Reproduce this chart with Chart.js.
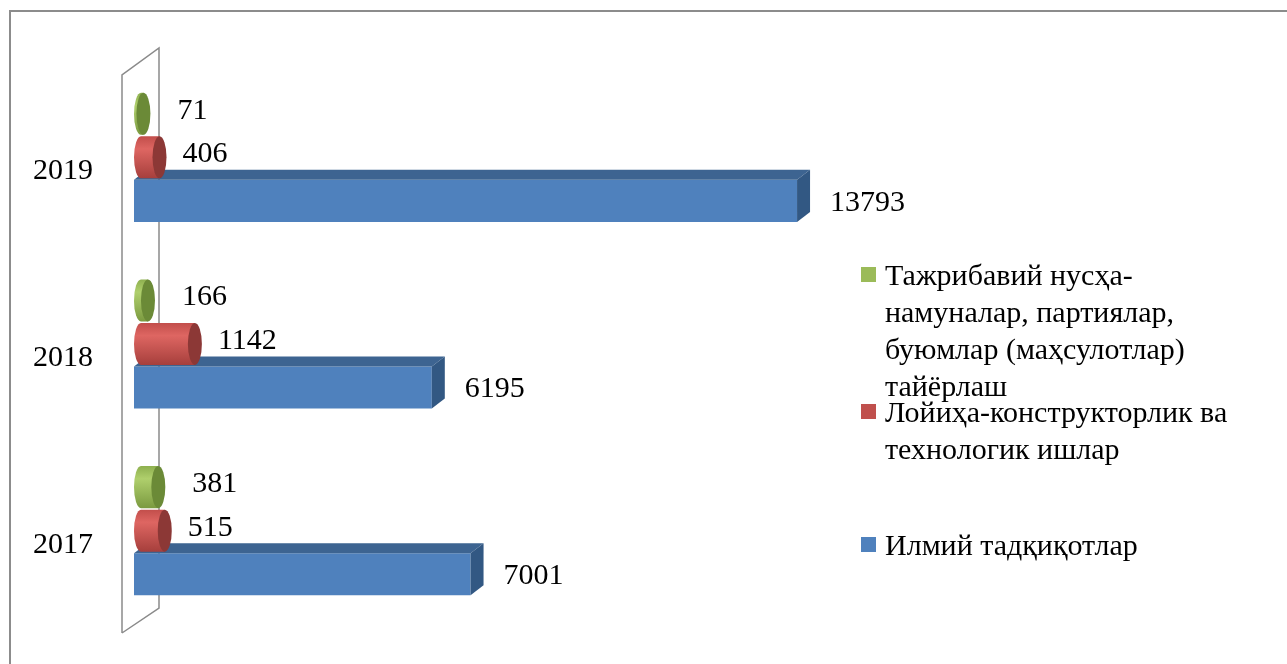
<!DOCTYPE html>
<html lang="uz">
<head>
  <meta charset="UTF-8">
  <title>Илмий тадқиқотлар 2017-2019</title>
  <script src="https://cdn.jsdelivr.net/npm/chart.js"></script>
  <style>
    html, body {
      margin: 0;
      padding: 0;
      background: #fff;
      overflow: hidden;
    }
    #wrap {
      position: relative;
      width: 1287px;
      height: 664px;
    }
    #frame {
      position: absolute;
      left: 9px;
      top: 10px;
      width: 1300px;
      height: 700px;
      border: 2px solid #8c8c8c;
      pointer-events: none;
    }
    #legend {
      position: absolute;
      left: 0;
      top: 0;
      font-family: "Liberation Serif", "Times New Roman", serif;
      font-size: 30px;
      line-height: 37px;
      color: #000;
    }
    .item {
      position: absolute;
      left: 861px;
      width: 400px;
    }
    .item .box {
      position: absolute;
      left: 0;
      top: 11px;
      width: 15px;
      height: 15px;
    }
    .item .txt {
      margin-left: 24px;
      width: 370px;
    }
  </style>
</head>
<body>
  <div id="wrap">
    <canvas id="chart"></canvas>
    <div id="frame"></div>
    <div id="legend"></div>
  </div>

  <script>
    const years = ['2017', '2018', '2019'];
    const seriesNames = [
      'Тажрибавий нусҳа-намуналар, партиялар, буюмлар (маҳсулотлар) тайёрлаш',
      'Лойиҳа-конструкторлик ва технологик ишлар',
      'Илмий тадқиқотлар'
    ];
    const prototypes = [381, 166, 71];
    const design = [515, 1142, 406];
    const research = [7001, 6195, 13793];

    const colors = ['#9bbb59', '#c0504d', '#4f81bd'];
    const legendTops = [256, 393, 526];

    const SERIF = '"Liberation Serif", "Times New Roman", serif';

    // 3D look: box faces for the blue bars, cylinders for the other two
    const threeD = {
      id: 'threeD',
      beforeDatasetsDraw(chart) {
        const { ctx, chartArea: a } = chart;
        ctx.save();
        ctx.strokeStyle = '#8a8a8a';
        ctx.lineWidth = 1.5;
        ctx.beginPath();
        ctx.moveTo(a.left - 12, a.bottom + 9);
        ctx.lineTo(a.left - 12, a.top + 11);
        ctx.lineTo(a.left + 25, a.top - 16);
        ctx.lineTo(a.left + 25, a.bottom - 16);
        ctx.lineTo(a.left - 12, a.bottom + 9);
        ctx.stroke();
        ctx.restore();
      },
      afterDatasetDraw(chart, args) {
        const ctx = chart.ctx;
        const i = args.index;
        const meta = args.meta;
        ctx.save();
        meta.data.forEach(bar => {
          const p = bar.getProps(['x', 'y', 'base', 'height'], true);
          const top = p.y - p.height / 2;
          const bottom = p.y + p.height / 2;
          if (i === 2) {
            const dx = 13, dy = -10;
            ctx.fillStyle = '#3d6491';
            ctx.beginPath();
            ctx.moveTo(p.base, top);
            ctx.lineTo(p.x, top);
            ctx.lineTo(p.x + dx, top + dy);
            ctx.lineTo(p.base + dx, top + dy);
            ctx.closePath();
            ctx.fill();
            ctx.fillStyle = '#325883';
            ctx.beginPath();
            ctx.moveTo(p.x, top);
            ctx.lineTo(p.x + dx, top + dy);
            ctx.lineTo(p.x + dx, bottom + dy);
            ctx.lineTo(p.x, bottom);
            ctx.closePath();
            ctx.fill();
          } else {
            const rx = 7, ry = p.height / 2;
            const L = p.base + rx;
            const C = Math.max(p.x + 6, L + 2);
            const g = ctx.createLinearGradient(0, top, 0, bottom);
            if (i === 1) {
              g.addColorStop(0, '#c24e4b');
              g.addColorStop(0.3, '#de6662');
              g.addColorStop(1, '#a63f3c');
            } else {
              g.addColorStop(0, '#8eb04f');
              g.addColorStop(0.3, '#afcf6c');
              g.addColorStop(1, '#7b9a40');
            }
            ctx.fillStyle = g;
            ctx.beginPath();
            ctx.ellipse(L, p.y, rx, ry, 0, Math.PI / 2, Math.PI * 1.5);
            ctx.lineTo(C, top);
            ctx.lineTo(C, bottom);
            ctx.closePath();
            ctx.fill();
            ctx.fillStyle = i === 1 ? '#8c3836' : '#6b8a37';
            ctx.beginPath();
            ctx.ellipse(C, p.y, rx, ry, 0, 0, Math.PI * 2);
            ctx.fill();
          }
        });
        ctx.restore();
      },
      afterDatasetsDraw(chart) {
        const ctx = chart.ctx;
        const dxs = [40, 29, 33];
        const dys = [-3, -3, 2];
        ctx.save();
        ctx.font = '30px ' + SERIF;
        ctx.fillStyle = '#000';
        ctx.textAlign = 'left';
        ctx.textBaseline = 'middle';
        chart.data.datasets.forEach((ds, i) => {
          chart.getDatasetMeta(i).data.forEach((bar, j) => {
            ctx.fillText(String(ds.data[j]), bar.x + dxs[i], bar.y + dys[i]);
          });
        });
        ctx.restore();
      }
    };

    const ctx = document.getElementById('chart').getContext('2d');
    const chart = new Chart(ctx, {
      type: 'bar',
      data: {
        labels: years,
        datasets: [
          { label: seriesNames[0], data: prototypes, backgroundColor: 'rgba(0,0,0,0)' },
          { label: seriesNames[1], data: design, backgroundColor: 'rgba(0,0,0,0)' },
          { label: seriesNames[2], data: research, backgroundColor: colors[2] }
        ]
      },
      options: {
        indexAxis: 'y',
        responsive: true,
        maintainAspectRatio: false,
        animation: false,
        categoryPercentage: 0.70,
        barPercentage: 0.965,
        layout: {
          padding: { top: 64, bottom: 40, left: 33, right: 480 }
        },
        plugins: {
          legend: { display: false },
          tooltip: { enabled: false }
        },
        scales: {
          x: {
            display: false,
            min: 0,
            max: 14000
          },
          y: {
            reverse: true,
            grid: { display: false, drawTicks: false },
            border: { display: false },
            ticks: {
              color: '#000',
              font: { family: SERIF, size: 30 },
              padding: 0,
              crossAlign: 'far',
              labelOffset: 14
            },
            afterFit(scale) {
              scale.width = 101;
            }
          }
        }
      },
      plugins: [threeD]
    });

    // legend on the right, built from the dataset labels
    const legend = document.getElementById('legend');
    chart.data.datasets.forEach((ds, i) => {
      const item = document.createElement('div');
      item.className = 'item';
      item.style.top = legendTops[i] + 'px';
      const box = document.createElement('div');
      box.className = 'box';
      box.style.background = colors[i];
      const txt = document.createElement('div');
      txt.className = 'txt';
      txt.textContent = ds.label;
      item.appendChild(box);
      item.appendChild(txt);
      legend.appendChild(item);
    });
  </script>
</body>
</html>
